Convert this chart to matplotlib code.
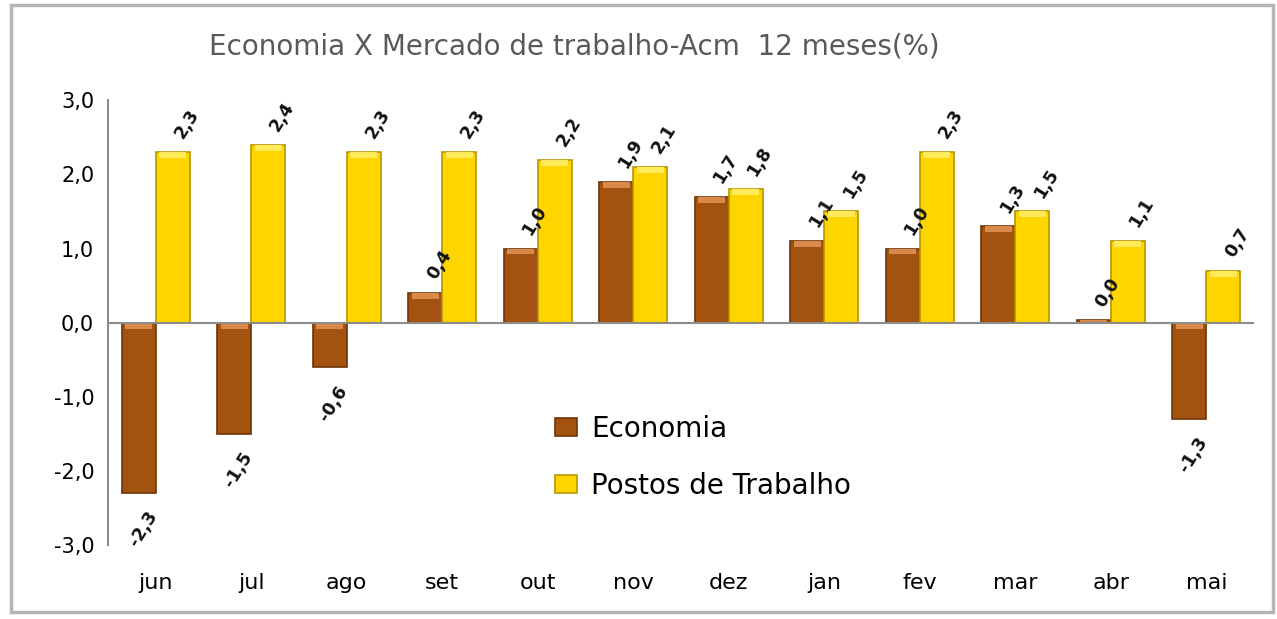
import numpy as np
import matplotlib
matplotlib.use("Agg")
import matplotlib.pyplot as plt
from matplotlib.patches import Rectangle

# -------------------------------------------------
# DATA
# -------------------------------------------------
meses = ["jun", "jul", "ago", "set", "out", "nov", "dez", "jan", "fev", "mar", "abr", "mai"]
economia = [-2.3, -1.5, -0.6, 0.4, 1.0, 1.9, 1.7, 1.1, 1.0, 1.3, 0.03, -1.3]
postos = [2.3, 2.4, 2.3, 2.3, 2.2, 2.1, 1.8, 1.5, 2.3, 1.5, 1.1, 0.7]
yticks = [-3.0, -2.0, -1.0, 0.0, 1.0, 2.0, 3.0]

COR_ECO = "#A3520F"
BORDA_ECO = "#6E3506"
LUZ_ECO = "#D98A4A"
COR_POS = "#FFD500"
BORDA_POS = "#B89600"
LUZ_POS = "#FFEB5A"

# -------------------------------------------------
# PLOT
# -------------------------------------------------
plt.rcParams["font.family"] = ["DejaVu Sans"]
fig = plt.figure(figsize=(12.77, 6.19), dpi=100)
ax = fig.add_axes([0.0846, 0.1195, 0.8974, 0.7185])

x = np.arange(len(meses))
w = 0.356

ax.bar(x - w / 2, economia, w, color=COR_ECO, edgecolor=BORDA_ECO, linewidth=1.2,
       label="Economia", zorder=3)
ax.bar(x + w / 2, postos, w, color=COR_POS, edgecolor=BORDA_POS, linewidth=1.2,
       label="Postos de Trabalho", zorder=3)

# efeito de bisel: faixa clara no topo de cada barra
for xs, vals, luz in ((x - w / 2, economia, LUZ_ECO), (x + w / 2, postos, LUZ_POS)):
    vals = np.array(vals)
    faixa = np.minimum(np.abs(vals), 0.08)
    base = np.where(vals >= 0, vals - faixa, -faixa)
    ax.bar(xs, faixa, w * 0.8, bottom=base, color=luz, linewidth=0, zorder=4)


def fmt(v):
    return f"{v:.1f}".replace(".", ",")


for xs, vals in ((x - w / 2, economia), (x + w / 2, postos)):
    for xi, v in zip(xs, vals):
        if v >= 0:
            off = (14, 28)
        else:
            off = (4, -36)
        ax.annotate(fmt(v), (xi, v), xytext=off, textcoords="offset pixels",
                    ha="center", va="center", rotation=58, fontsize=12.5,
                    fontweight="bold", color="#111111")

ax.set_xlim(-0.5, len(meses) - 0.5)
ax.set_ylim(-3.0, 3.0)
ax.set_yticks(yticks)
ax.set_yticklabels([fmt(t) for t in yticks], fontsize=15)
ax.set_xticks(x)
ax.set_xticklabels(meses, fontsize=16)
ax.tick_params(axis="both", length=0, pad=10)
ax.tick_params(axis="x", pad=20)

for s in ("top", "right", "bottom"):
    ax.spines[s].set_visible(False)
ax.spines["left"].set_color("#8C8C8C")
ax.spines["left"].set_linewidth(1.5)
ax.axhline(0, color="#8C8C8C", linewidth=1.5, zorder=5)

fig.text(0.45, 0.925, "Economia X Mercado de trabalho-Acm  12 meses(%)",
         ha="center", va="center", fontsize=20, color="#595959")

ax.legend(loc="lower left", bbox_to_anchor=(0.368, 0.045), frameon=False,
          fontsize=20, labelspacing=1.05, handlelength=0.8, handleheight=0.6,
          handletextpad=0.5)

# moldura da figura
fig.patches.append(Rectangle((0.0085, 0.012), 0.988, 0.98, transform=fig.transFigure,
                             fill=False, edgecolor="#B5B5B5", linewidth=2.5))

plt.savefig("out.png", dpi=100)
